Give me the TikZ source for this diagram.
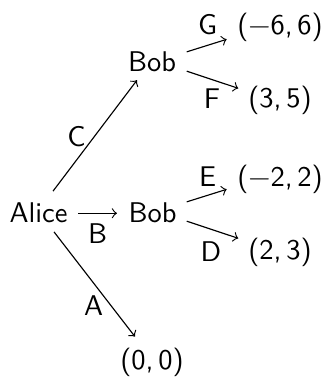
\documentclass[tikz,border=0pt]{standalone}
\begin{document}
\begin{tikzpicture}[x=0.351pt,y=-0.351pt,
  every node/.style={inner sep=0pt,font=\sffamily},
  lbl/.style={anchor=base},
  edge/.style={->}]
\useasboundingbox (0,0) rectangle (325,377);
% players
\node[lbl] (alice) at (38.5,223) {Alice};
\node[lbl] (bobt) at (152,72) {Bob};
\node[lbl] (bobm) at (152.5,223) {Bob};
% outcomes
\node[lbl] (o00) at (152,369) {(0,\,0)};
\node[lbl] (o66) at (280,35) {(\textminus6,\,6)};
\node[lbl] (o35) at (280,108) {(3,\,5)};
\node[lbl] (o22) at (280,186) {(\textminus2,\,2)};
\node[lbl] (o23) at (280,259) {(2,\,3)};
% move labels
\node[lbl] (lC) at (76.5,147) {C};
\node[lbl] (lB) at (97.5,243) {B};
\node[lbl] (lA) at (93.5,315) {A};
\node[lbl] (lG) at (207.5,35) {G};
\node[lbl] (lF) at (212,109) {F};
\node[lbl] (lE) at (207.5,187) {E};
\node[lbl] (lD) at (211,261) {D};
% connectors
\draw[edge] ([shift={(14.5,-22.1)}]alice.center) -- ([shift={(-15,17.9)}]bobt.center);
\draw[edge] ([shift={(39.5,0)}]alice.center) -- ([shift={(-35.5,0)}]bobm.center);
\draw[edge] ([shift={(15.5,18.6)}]alice.center) -- ([shift={(-17,-25.2)}]o00.center);
\draw[edge] ([shift={(34.7,-10.4)}]bobt.center) -- ([shift={(-53.3,11.45)}]o66.center);
\draw[edge] ([shift={(34.7,8.9)}]bobt.center) -- ([shift={(-41.7,-12.55)}]o35.center);
\draw[edge] ([shift={(34.2,-11.4)}]bobm.center) -- ([shift={(-53.3,10.45)}]o22.center);
\draw[edge] ([shift={(34.2,7.9)}]bobm.center) -- ([shift={(-41.7,-13.55)}]o23.center);
\end{tikzpicture}
\end{document}
